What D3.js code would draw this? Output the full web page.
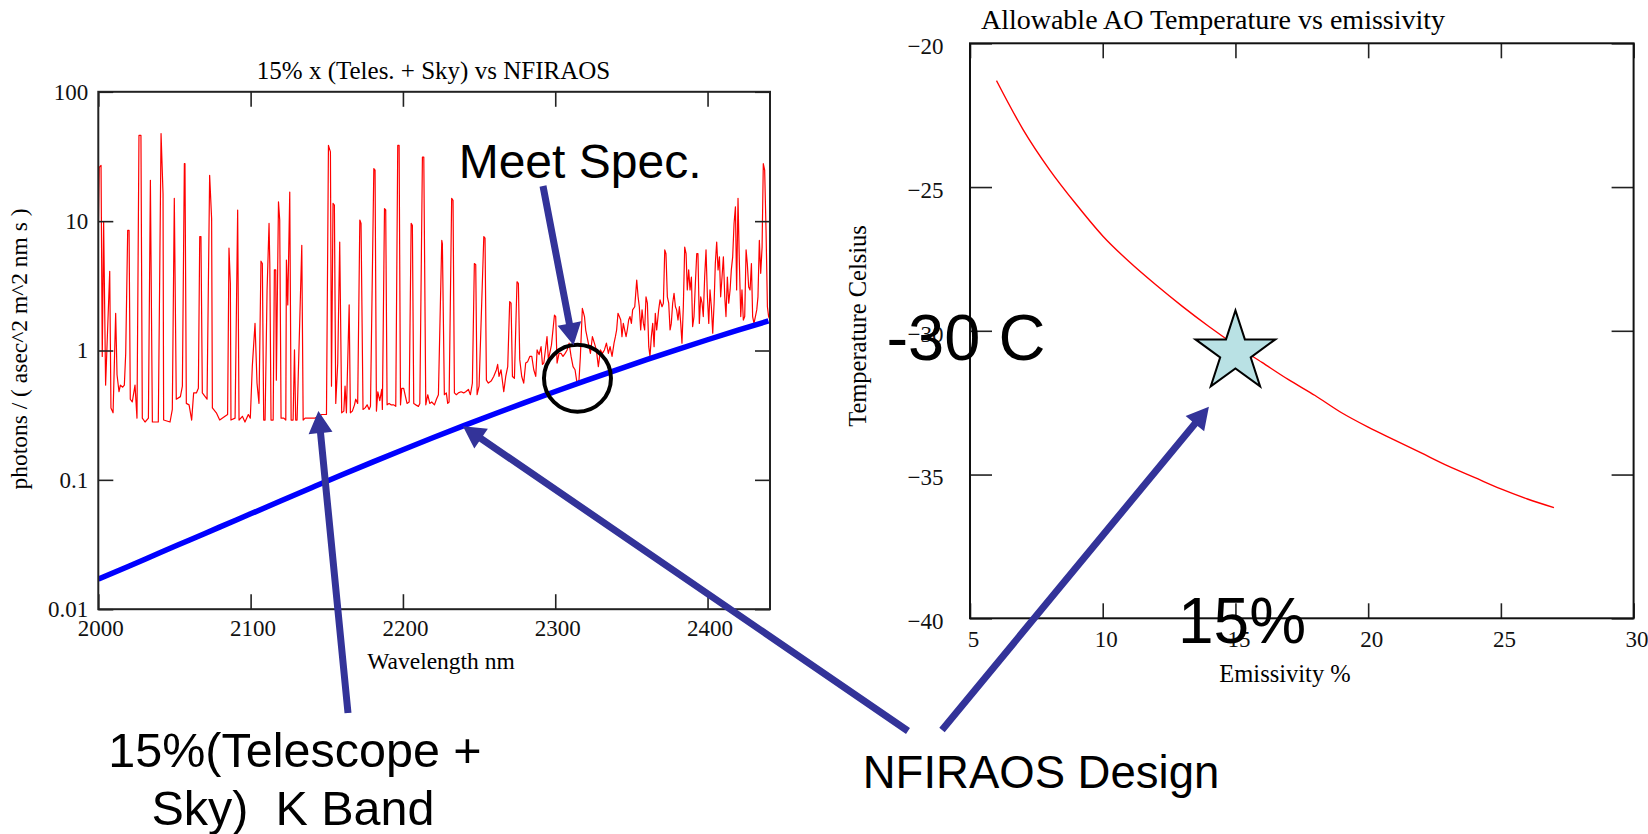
<!DOCTYPE html>
<html>
<head>
<meta charset="utf-8">
<script src="https://cdn.jsdelivr.net/npm/d3@7"></script>
<style>
  body { margin: 0; background: #fff; }
  svg { display: block; }
  text { white-space: pre; }
</style>
</head>
<body>
<script>
const width = 1648, height = 834;
const serif = "'Liberation Serif', 'Times New Roman', serif";
const sans = "'Liberation Sans', Arial, sans-serif";

// 15% x (telescope + sky) K band spectrum: [wavelength nm, photons]
const skySpectrum = [
  [2000.0, 8.0], [2000.6, 26], [2001.8, 27], [2002.6, 0.90], [2003.5, 9.9], [2004.8, 0.54],
  [2007.5, 4.1], [2008.3, 0.36], [2009.7, 0.33], [2011.4, 1.94], [2012.3, 0.65], [2013.6, 0.48],
  [2014.5, 0.54], [2016.0, 0.52], [2017.1, 0.54], [2018.0, 0.95], [2019.3, 8.5], [2020.2, 8.5],
  [2021.0, 0.42], [2022.3, 0.40], [2024.1, 0.54], [2025.4, 0.30], [2026.7, 46], [2028.0, 46],
  [2028.9, 0.30], [2030.7, 0.28], [2032.9, 0.30], [2034.2, 20.7], [2035.5, 0.28], [2039.4, 0.28],
  [2041.2, 47.5], [2042.5, 16.3], [2042.9, 0.29], [2047.1, 0.28], [2048.6, 0.35], [2049.9, 15],
  [2051.2, 0.42], [2053.9, 0.44], [2055.2, 0.53], [2056.5, 27.8], [2056.9, 27.8], [2057.8, 0.39],
  [2059.6, 0.38], [2061.3, 0.29], [2062.6, 0.47], [2064.4, 0.47], [2065.7, 0.51], [2066.6, 7.6],
  [2067.4, 7.6], [2068.3, 0.47], [2071.4, 0.42], [2073.1, 22.6], [2074.4, 10.5], [2074.9, 0.36],
  [2077.5, 0.33], [2079.7, 0.29], [2083.2, 0.31], [2084.9, 0.32], [2085.8, 6.2], [2086.7, 3.3],
  [2087.1, 0.29], [2089.8, 0.30], [2091.5, 12.2], [2092.4, 0.29], [2094.6, 0.31], [2096.3, 0.28],
  [2098.5, 0.32], [2099.8, 0.30], [2101.1, 0.75], [2102.9, 1.62], [2104.2, 0.56], [2105.5, 0.39],
  [2106.8, 4.9], [2107.7, 4.7], [2108.6, 0.29], [2109.5, 0.29], [2110.8, 2.9], [2112.1, 9.6],
  [2112.6, 4.7], [2113.4, 0.29], [2114.8, 0.29], [2115.6, 4.2], [2116.5, 4.2], [2116.9, 0.59],
  [2118.3, 14.1], [2119.1, 10.2], [2120.0, 0.30], [2121.8, 0.30], [2123.1, 0.29], [2123.5, 5.0],
  [2124.4, 2.25], [2125.7, 16.8], [2126.6, 0.29], [2127.9, 0.29], [2128.8, 1.01], [2129.6, 0.29],
  [2130.5, 0.29], [2133.6, 6.5], [2134.5, 0.29], [2135.8, 0.30], [2138.0, 0.30], [2142.3, 0.30],
  [2146.7, 0.32], [2149.8, 0.32], [2151.1, 38.5], [2152.4, 34.3], [2153.1, 0.53], [2154.1, 13.7],
  [2155.0, 13.3], [2155.9, 0.39], [2157.2, 0.80], [2158.5, 6.9], [2159.8, 0.33], [2161.2, 0.34],
  [2162.0, 0.53], [2162.9, 0.33], [2164.7, 2.25], [2165.5, 0.33], [2166.8, 0.34], [2168.2, 0.38],
  [2169.0, 0.42], [2170.3, 0.39], [2171.7, 10.2], [2172.5, 9.6], [2173.8, 0.35], [2175.2, 0.36],
  [2176.5, 0.38], [2177.8, 0.35], [2178.7, 0.37], [2180.9, 25.5], [2181.7, 24.8], [2182.6, 0.34],
  [2183.5, 0.48], [2184.8, 0.41], [2186.1, 0.50], [2186.5, 0.35], [2187.9, 12.5], [2188.7, 12.2],
  [2189.6, 0.38], [2190.9, 0.39], [2192.2, 0.38], [2194.0, 0.38], [2195.3, 0.37], [2196.6, 38.5],
  [2197.5, 38.5], [2198.4, 0.38], [2199.2, 0.51], [2200.5, 0.51], [2201.4, 0.455], [2202.7, 0.39],
  [2204.1, 0.40], [2205.4, 9.6], [2206.2, 9.3], [2207.1, 0.39], [2208.4, 0.38], [2210.2, 0.37],
  [2211.1, 0.39], [2212.8, 31.3], [2213.7, 31.3], [2215.0, 0.38], [2216.3, 0.455], [2217.6, 0.39],
  [2218.9, 0.40], [2220.7, 0.38], [2222.0, 0.42], [2223.3, 0.455], [2225.5, 7.1], [2225.9, 6.7],
  [2227.2, 0.455], [2228.5, 0.47], [2229.4, 0.39], [2230.3, 0.40], [2232.0, 15], [2232.9, 14.5],
  [2233.8, 0.47], [2235.1, 0.455], [2236.4, 0.47], [2238.2, 0.48], [2239.9, 0.47], [2241.2, 0.48],
  [2243.0, 0.50], [2244.3, 0.455], [2245.6, 0.56], [2246.9, 4.7], [2247.8, 4.6], [2248.7, 0.455],
  [2250.0, 0.53], [2253.1, 7.6], [2253.9, 7.4], [2254.8, 0.59], [2256.1, 0.56], [2257.9, 0.58],
  [2259.6, 0.63], [2261.4, 0.71], [2262.2, 0.78], [2263.1, 0.63], [2264.4, 0.71], [2266.2, 0.48],
  [2267.5, 0.63], [2268.8, 0.75], [2270.1, 2.39], [2271.0, 2.32], [2271.9, 0.63], [2273.2, 0.61],
  [2274.9, 3.4], [2275.8, 3.3], [2276.7, 0.85], [2278.0, 0.63], [2279.3, 0.56], [2280.6, 0.80],
  [2281.9, 0.82], [2283.3, 0.90], [2284.6, 0.90], [2285.9, 0.71], [2287.2, 0.63], [2288.1, 1.01],
  [2289.4, 0.93], [2290.7, 1.07], [2291.6, 0.78], [2292.5, 0.80], [2293.8, 1.07], [2294.6, 1.28],
  [2295.5, 0.85], [2297.5, 1.1], [2299.5, 1.88], [2300.3, 1.83], [2301.2, 0.80], [2302.5, 0.95],
  [2303.8, 0.95], [2305.1, 0.90], [2306.5, 0.95], [2307.8, 1.01], [2309.1, 1.14], [2310.4, 0.90],
  [2311.7, 0.75], [2313.0, 0.71], [2314.3, 0.56], [2315.6, 0.59], [2316.5, 0.90], [2317.8, 2.12],
  [2319.2, 1.83], [2320.0, 1.44], [2321.3, 1.21], [2322.2, 1.07], [2323.1, 0.95], [2324.4, 1.28],
  [2325.7, 1.14], [2327.0, 1.01], [2328.3, 0.75], [2329.7, 1.01], [2331.0, 0.95], [2332.3, 1.01],
  [2333.6, 1.14], [2334.9, 0.95], [2336.0, 1.07], [2337.3, 0.90], [2338.6, 1.14], [2339.5, 1.28],
  [2340.3, 1.44], [2341.2, 1.94], [2342.1, 1.83], [2343.0, 1.72], [2343.8, 1.28], [2344.7, 1.62],
  [2345.6, 1.44], [2346.5, 1.28], [2347.3, 1.44], [2348.2, 1.72], [2349.1, 1.83], [2350.0, 1.62],
  [2350.8, 2.06], [2352.2, 2.18], [2353.5, 3.5], [2354.4, 2.6], [2355.2, 2.18], [2356.1, 1.44],
  [2357.0, 2.06], [2357.9, 1.62], [2358.7, 1.44], [2359.6, 2.6], [2360.5, 2.32], [2361.4, 1.07],
  [2362.2, 0.90], [2363.1, 1.28], [2364.0, 1.62], [2364.9, 1.07], [2365.7, 1.94], [2366.6, 1.44],
  [2367.9, 2.06], [2368.8, 2.46], [2370.1, 2.18], [2371.0, 2.32], [2371.9, 6.0], [2372.7, 5.6],
  [2373.6, 2.6], [2374.5, 2.32], [2375.4, 1.44], [2376.2, 1.62], [2377.1, 2.32], [2378.0, 2.77],
  [2378.9, 2.18], [2379.7, 2.06], [2380.6, 1.72], [2381.5, 2.18], [2382.4, 1.62], [2383.2, 1.14],
  [2384.1, 2.18], [2385.0, 6.3], [2385.9, 5.6], [2386.7, 2.94], [2387.6, 4.2], [2388.5, 2.94],
  [2389.4, 3.7], [2390.2, 1.53], [2391.1, 1.83], [2392.0, 3.3], [2392.9, 5.6], [2393.7, 5.6],
  [2394.6, 1.62], [2395.5, 2.6], [2396.4, 2.32], [2397.2, 1.83], [2398.1, 3.7], [2399.0, 6.0],
  [2399.9, 2.6], [2400.8, 1.62], [2401.6, 2.94], [2402.5, 2.18], [2403.4, 1.36], [2404.3, 2.32],
  [2405.1, 4.7], [2406.0, 6.9], [2406.9, 4.2], [2407.8, 5.3], [2408.6, 2.6], [2409.5, 3.7],
  [2410.4, 5.3], [2411.3, 2.6], [2412.1, 1.83], [2413.0, 3.7], [2413.9, 2.32], [2414.8, 2.94],
  [2415.6, 4.2], [2416.5, 5.3], [2417.4, 9.6], [2418.3, 12.9], [2419.1, 2.94], [2420.0, 15],
  [2420.9, 4.7], [2421.8, 1.83], [2422.6, 2.94], [2423.5, 1.72], [2424.4, 1.83], [2425.3, 6.0],
  [2426.1, 4.7], [2427.0, 3.1], [2427.9, 2.94], [2428.8, 4.7], [2429.6, 1.83], [2430.5, 1.62],
  [2431.4, 1.83], [2432.3, 2.06], [2433.1, 2.6], [2434.0, 7.1], [2434.9, 3.95], [2435.8, 6.3],
  [2436.6, 27.8], [2437.5, 24.8], [2438.4, 8.5], [2439.3, 2.18], [2440.1, 1.83], [2441.0, 1.72]
];

// NFIRAOS thermal emission
const nfiraosWave = [2000, 2020, 2040, 2060, 2080, 2100, 2120, 2140, 2160, 2180, 2200, 2220,
  2240, 2260, 2280, 2300, 2320, 2340, 2360, 2380, 2400, 2420, 2440];
const nfiraosFlux = [0.0171, 0.0215, 0.0272, 0.0343, 0.0433, 0.0546, 0.0689, 0.0869, 0.1094, 0.1371,
  0.1710, 0.2123, 0.2624, 0.3228, 0.3954, 0.4819, 0.5848, 0.7063, 0.8492, 1.016, 1.211, 1.436, 1.694];

const waveTicks = [2000, 2100, 2200, 2300, 2400];
const fluxTicks = [0.01, 0.1, 1, 10, 100];
const fluxTickLabels = ["0.01", "0.1", "1", "10", "100"];

// allowable AO temperature vs emissivity
const emissivity = [6, 7, 8, 9, 10, 11, 12, 13, 14, 15, 16, 17, 18, 19, 20, 21, 22, 23, 24, 25, 26, 27];
const allowedTemp = [-21.3, -23.0, -24.4, -25.6, -26.7, -27.6, -28.4, -29.15, -29.85, -30.5, -31.1,
  -31.7, -32.25, -32.85, -33.35, -33.8, -34.25, -34.7, -35.1, -35.5, -35.85, -36.15];
const emisTicks = [5, 10, 15, 20, 25, 30];
const tempTicks = [-20, -25, -30, -35, -40];

const designPoint = [15, -30.75];   // emissivity %, temperature C
const meetSpecPoint = [2314.6, 0.61];

const svg = d3.select("body").append("svg")
    .attr("width", width)
    .attr("height", height)
    .attr("viewBox", [0, 0, width, height]);

// ---------- left chart ----------
const L = {left: 98.3, right: 770, top: 91.8, bottom: 609.2};
const xL = d3.scaleLinear([2000, 2441], [L.left, L.right]);
const yL = d3.scaleLog([0.01, 100], [L.bottom, L.top]);

// ---------- right chart ----------
const R = {left: 970, right: 1633.6, top: 43.3, bottom: 618.3};
const xR = d3.scaleLinear([5, 30], [R.left, R.right]);
const yR = d3.scaleLinear([-40, -20], [R.bottom, R.top]);

function styleAxis(g) {
  g.select(".domain").remove();
  g.selectAll(".tick line").attr("stroke", "#222").attr("stroke-width", 1.6);
  g.selectAll(".tick text")
      .attr("font-family", serif)
      .attr("font-size", 23)
      .attr("fill", "#111");
}

svg.append("defs").append("clipPath").attr("id", "clipL")
  .append("rect")
    .attr("x", L.left).attr("y", L.top)
    .attr("width", L.right - L.left).attr("height", L.bottom - L.top);

svg.append("path")
    .datum(skySpectrum)
    .attr("clip-path", "url(#clipL)")
    .attr("fill", "none")
    .attr("stroke", "#ff0000")
    .attr("stroke-width", 1.2)
    .attr("stroke-linejoin", "round")
    .attr("d", d3.line().x(d => xL(d[0])).y(d => yL(d[1])));

svg.append("path")
    .datum(d3.range(nfiraosWave.length))
    .attr("clip-path", "url(#clipL)")
    .attr("fill", "none")
    .attr("stroke", "#0000ff")
    .attr("stroke-width", 5.5)
    .attr("d", d3.line().curve(d3.curveMonotoneX)
      .x(i => xL(nfiraosWave[i])).y(i => yL(nfiraosFlux[i])));

svg.append("g")
    .attr("transform", `translate(0,${L.bottom})`)
    .call(d3.axisBottom(xL).tickValues(waveTicks).tickSize(-15).tickPadding(10).tickFormat(d3.format("d")))
    .call(styleAxis)
    .call(g => g.selectAll(".tick text").attr("dx", 2));
svg.append("g")
    .attr("transform", `translate(0,${L.top})`)
    .call(d3.axisTop(xL).tickValues(waveTicks).tickSize(-15).tickFormat(""))
    .call(styleAxis);
svg.append("g")
    .attr("transform", `translate(${L.left},0)`)
    .call(d3.axisLeft(yL).tickValues(fluxTicks).tickSize(-15).tickPadding(10)
      .tickFormat((d, i) => fluxTickLabels[i]))
    .call(styleAxis);
svg.append("g")
    .attr("transform", `translate(${L.right},0)`)
    .call(d3.axisRight(yL).tickValues(fluxTicks).tickSize(-15).tickFormat(""))
    .call(styleAxis);

svg.append("rect")
    .attr("x", L.left).attr("y", L.top)
    .attr("width", L.right - L.left).attr("height", L.bottom - L.top)
    .attr("fill", "none").attr("stroke", "#222").attr("stroke-width", 2);

svg.append("text")
    .attr("x", 433.5).attr("y", 79)
    .attr("text-anchor", "middle")
    .attr("font-family", serif).attr("font-size", 25)
    .text("15% x (Teles. + Sky) vs NFIRAOS");
svg.append("text")
    .attr("x", 441).attr("y", 669)
    .attr("text-anchor", "middle")
    .attr("font-family", serif).attr("font-size", 23.5)
    .text("Wavelength nm");
svg.append("text")
    .attr("transform", "translate(27,349) rotate(-90)")
    .attr("text-anchor", "middle")
    .attr("font-family", serif).attr("font-size", 23.5)
    .text("photons / ( asec^2 m^2 nm s )");

// ---------- right chart marks ----------
svg.append("path")
    .datum(d3.range(emissivity.length))
    .attr("fill", "none")
    .attr("stroke", "#ff0000")
    .attr("stroke-width", 1.4)
    .attr("d", d3.line().curve(d3.curveMonotoneX)
      .x(i => xR(emissivity[i])).y(i => yR(allowedTemp[i])));

svg.append("g")
    .attr("transform", `translate(0,${R.bottom})`)
    .call(d3.axisBottom(xR).tickValues(emisTicks).tickSize(-15).tickPadding(12.5).tickFormat(d3.format("d")))
    .call(styleAxis)
    .call(g => g.selectAll(".tick text").attr("dx", 3));
svg.append("g")
    .attr("transform", `translate(0,${R.top})`)
    .call(d3.axisTop(xR).tickValues(emisTicks).tickSize(-15).tickFormat(""))
    .call(styleAxis);
svg.append("g")
    .attr("transform", `translate(${R.left},0)`)
    .call(d3.axisLeft(yR).tickValues(tempTicks).tickSize(-22).tickPadding(26.5).tickFormat(d3.format("d")))
    .call(styleAxis)
    .call(g => g.selectAll(".tick text").attr("dy", "0.45em"));
svg.append("g")
    .attr("transform", `translate(${R.right},0)`)
    .call(d3.axisRight(yR).tickValues(tempTicks).tickSize(-22).tickFormat(""))
    .call(styleAxis);

svg.append("rect")
    .attr("x", R.left).attr("y", R.top)
    .attr("width", R.right - R.left).attr("height", R.bottom - R.top)
    .attr("fill", "none").attr("stroke", "#111").attr("stroke-width", 2);

svg.append("text")
    .attr("x", 1213).attr("y", 29)
    .attr("text-anchor", "middle")
    .attr("font-family", serif).attr("font-size", 28)
    .text("Allowable AO Temperature vs emissivity");
svg.append("text")
    .attr("x", 1285).attr("y", 681.5)
    .attr("text-anchor", "middle")
    .attr("font-family", serif).attr("font-size", 24.5)
    .text("Emissivity %");
svg.append("text")
    .attr("transform", "translate(866,326) rotate(-90)")
    .attr("text-anchor", "middle")
    .attr("font-family", serif).attr("font-size", 24.5)
    .text("Temperature Celsius");

// design point star
svg.append("path")
    .attr("transform", `translate(${xR(designPoint[0])},${yR(designPoint[1])})`)
    .attr("d", d3.symbol(d3.symbolStar, 1980)())
    .attr("fill", "#b9e1e4")
    .attr("stroke", "#000")
    .attr("stroke-width", 2)
    .attr("stroke-linejoin", "miter");

// meet spec circle
svg.append("circle")
    .attr("cx", xL(meetSpecPoint[0])).attr("cy", yL(meetSpecPoint[1]))
    .attr("r", 33.5)
    .attr("fill", "none").attr("stroke", "#000").attr("stroke-width", 4);

// ---------- annotations ----------
const arrows = [
  {from: [543, 186], to: [xL(2312), yL(1.1)]},
  {from: [348, 713], to: [xL(2144.5), yL(0.34)]},
  {from: [908, 731], to: [xL(2239.4), yL(0.26)]},
  {from: [942, 730], to: [xR(14), yR(-32.64)]}
];

function arrowPath(a, shaft = 7, headLen = 22, headHalf = 12) {
  const [x0, y0] = a.from, [x1, y1] = a.to;
  const len = Math.hypot(x1 - x0, y1 - y0);
  const ux = (x1 - x0) / len, uy = (y1 - y0) / len;
  const nx = -uy, ny = ux;
  const bx = x1 - ux * headLen, by = y1 - uy * headLen;
  const s = shaft / 2;
  const p = d3.path();
  p.moveTo(x0 + nx * s, y0 + ny * s);
  p.lineTo(bx + nx * s, by + ny * s);
  p.lineTo(bx + nx * headHalf, by + ny * headHalf);
  p.lineTo(x1, y1);
  p.lineTo(bx - nx * headHalf, by - ny * headHalf);
  p.lineTo(bx - nx * s, by - ny * s);
  p.lineTo(x0 - nx * s, y0 - ny * s);
  p.closePath();
  return p.toString();
}

svg.append("g").selectAll("path")
  .data(arrows)
  .join("path")
    .attr("d", d => arrowPath(d))
    .attr("fill", "#333399");

const notes = svg.append("g").attr("font-family", sans).attr("fill", "#000");
notes.append("text").attr("x", 458.7).attr("y", 178.3).attr("font-size", 48).text("Meet Spec.");
notes.append("text").attr("x", 295).attr("y", 766.7).attr("text-anchor", "middle")
    .attr("font-size", 48.5).text("15%(Telescope +");
notes.append("text").attr("x", 293).attr("y", 825).attr("text-anchor", "middle")
    .attr("font-size", 48.5).text("Sky)  K Band");
notes.append("text").attr("x", 1041).attr("y", 788.3).attr("text-anchor", "middle")
    .attr("font-size", 45.5).text("NFIRAOS Design");
notes.append("text").attr("x", 886.4).attr("y", 360).attr("font-size", 65).text("-30 C");
notes.append("text").attr("x", 1178).attr("y", 643.3).attr("font-size", 64).text("15%");
</script>
</body>
</html>
